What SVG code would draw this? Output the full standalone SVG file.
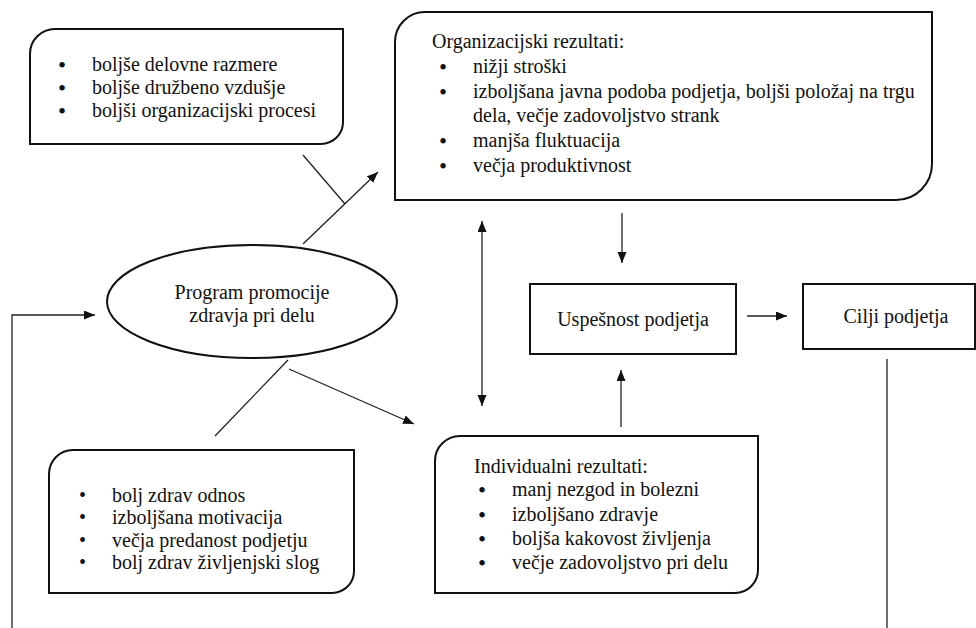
<svg xmlns="http://www.w3.org/2000/svg" width="976" height="628" viewBox="0 0 976 628">
<style>
.box{fill:#fff;stroke:#111;stroke-width:2}
.t{font-family:"Liberation Serif","Times New Roman",serif;font-size:20px;fill:#111}
.c{text-anchor:middle}
.b{font-size:23px}
.ln{fill:none;stroke:#222;stroke-width:1.3}
</style>
<defs>
<marker id="ah" markerUnits="userSpaceOnUse" markerWidth="12" markerHeight="10" refX="11" refY="4.5" orient="auto-start-reverse">
<path d="M0,0 L11,4.5 L0,9 z" fill="#111"/>
</marker>
</defs>
<rect width="976" height="628" fill="#fff"/>
<g id="connectors">
<line class="ln" x1="303" y1="244" x2="378" y2="172" marker-end="url(#ah)"/>
<line class="ln" x1="303" y1="155" x2="345" y2="204"/>
<line class="ln" x1="288" y1="360" x2="215" y2="436"/>
<line class="ln" x1="289" y1="369" x2="414" y2="424" marker-end="url(#ah)"/>
<line class="ln" x1="482" y1="221" x2="482" y2="406" marker-start="url(#ah)" marker-end="url(#ah)"/>
<line class="ln" x1="622" y1="213" x2="622" y2="263" marker-end="url(#ah)"/>
<line class="ln" x1="621" y1="427" x2="621" y2="370" marker-end="url(#ah)"/>
<line class="ln" x1="747" y1="316" x2="787" y2="316" marker-end="url(#ah)"/>
<line class="ln" x1="887" y1="359" x2="887" y2="628"/>
<polyline class="ln" points="12,628 12,315 95,315" marker-end="url(#ah)"/>
</g>
<g id="box-top-left">
<path class="box" d="M30,54 A25,25 0 0 1 55,29 H343 V122 A22,22 0 0 1 321,144 H30 Z"/>
<text class="t" y="71"><tspan class="b" x="58" dy="2">•</tspan><tspan x="92" dy="-2">boljše delovne razmere</tspan></text>
<text class="t" y="94"><tspan class="b" x="58" dy="2">•</tspan><tspan x="92" dy="-2">boljše družbeno vzdušje</tspan></text>
<text class="t" y="117"><tspan class="b" x="58" dy="2">•</tspan><tspan x="92" dy="-2">boljši organizacijski procesi</tspan></text>
</g>
<g id="box-organizacijski">
<path class="box" d="M395,42 A30,30 0 0 1 425,12 H932 V164 A36,36 0 0 1 896,200 H395 Z"/>
<text class="t" x="432" y="48">Organizacijski rezultati:</text>
<text class="t" y="73"><tspan class="b" x="439" dy="2">•</tspan><tspan x="473" dy="-2">nižji stroški</tspan></text>
<text class="t" y="98"><tspan class="b" x="439" dy="2">•</tspan><tspan x="473" dy="-2">izboljšana javna podoba podjetja, boljši položaj na trgu</tspan></text>
<text class="t" x="473" y="122">dela, večje zadovoljstvo strank</text>
<text class="t" y="147"><tspan class="b" x="439" dy="2">•</tspan><tspan x="473" dy="-2">manjša fluktuacija</tspan></text>
<text class="t" y="172"><tspan class="b" x="439" dy="2">•</tspan><tspan x="473" dy="-2">večja produktivnost</tspan></text>
</g>
<g id="program">
<ellipse cx="252" cy="301.5" rx="145" ry="56.5" fill="#fff" stroke="#111" stroke-width="2"/>
<text class="t c" x="252" y="299">Program promocije</text>
<text class="t c" x="252" y="322">zdravja pri delu</text>
</g>
<g id="uspesnost">
<rect class="box" x="530" y="284" width="206" height="70"/>
<text class="t c" x="633" y="326">Uspešnost podjetja</text>
</g>
<g id="cilji">
<rect class="box" x="803" y="284" width="172" height="65"/>
<text class="t c" x="896" y="323">Cilji podjetja</text>
</g>
<g id="box-bottom-left">
<path class="box" d="M49,474 A24,24 0 0 1 73,450 H354 V571 A22,22 0 0 1 332,593 H49 Z"/>
<text class="t" y="502"><tspan x="79">•</tspan><tspan x="112">bolj zdrav odnos</tspan></text>
<text class="t" y="524.3"><tspan x="79">•</tspan><tspan x="112">izboljšana motivacija</tspan></text>
<text class="t" y="546.6"><tspan x="79">•</tspan><tspan x="112">večja predanost podjetju</tspan></text>
<text class="t" y="568.9"><tspan x="79">•</tspan><tspan x="112">bolj zdrav življenjski slog</tspan></text>
</g>
<g id="box-individualni">
<path class="box" d="M435,461 A25,25 0 0 1 460,436 H758 V570 A23,23 0 0 1 735,593 H435 Z"/>
<text class="t" x="474" y="473">Individualni rezultati:</text>
<text class="t" y="496"><tspan class="b" x="478" dy="2">•</tspan><tspan x="512" dy="-2">manj nezgod in bolezni</tspan></text>
<text class="t" y="521"><tspan class="b" x="478" dy="2">•</tspan><tspan x="512" dy="-2">izboljšano zdravje</tspan></text>
<text class="t" y="545"><tspan class="b" x="478" dy="2">•</tspan><tspan x="512" dy="-2">boljša kakovost življenja</tspan></text>
<text class="t" y="569"><tspan class="b" x="478" dy="2">•</tspan><tspan x="512" dy="-2">večje zadovoljstvo pri delu</tspan></text>
</g>
</svg>
